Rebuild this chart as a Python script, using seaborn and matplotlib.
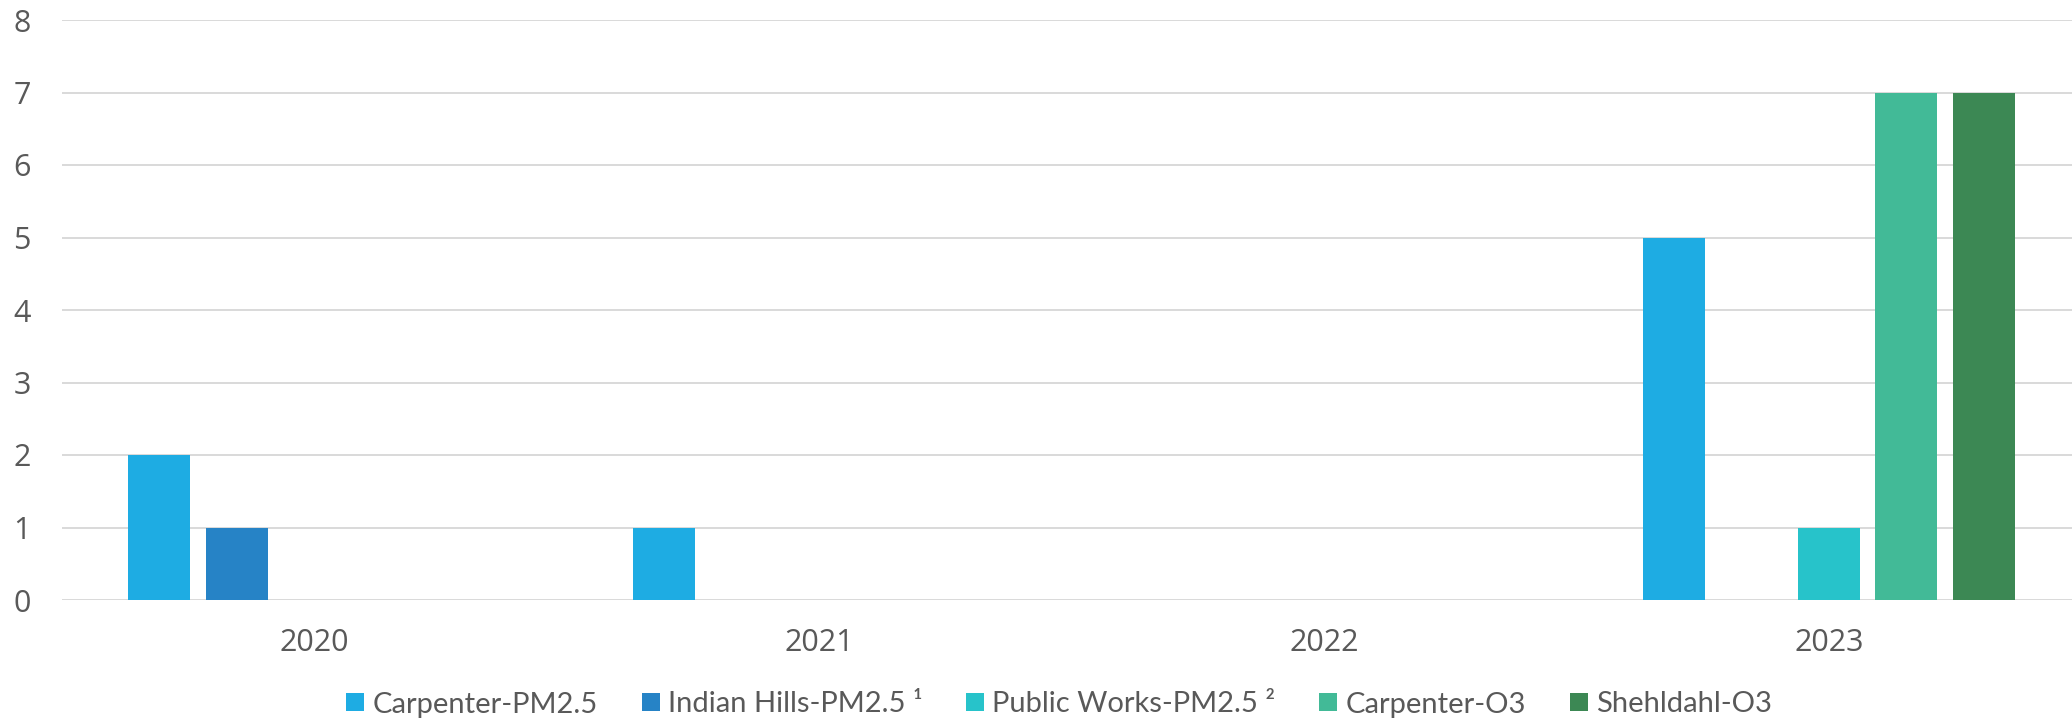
import matplotlib
matplotlib.use("Agg")
import matplotlib.pyplot as plt
import seaborn as sns
import pandas as pd

years = ["2020", "2021", "2022", "2023"]
series_names = ["Carpenter-PM2.5", "Indian Hills-PM2.5 \u00b9", "Public Works-PM2.5 \u00b2",
                "Carpenter-O3", "Shehldahl-O3"]
carpenter_pm25 = [2, 1, 0, 5]
indian_hills_pm25 = [1, 0, 0, 0]
public_works_pm25 = [0, 0, 0, 1]
carpenter_o3 = [0, 0, 0, 7]
shehldahl_o3 = [0, 0, 0, 7]
colors = ["#1EACE3", "#2683C6", "#27C3CA", "#42BA97", "#3C8854"]
y_ticks = [0, 1, 2, 3, 4, 5, 6, 7, 8]

values = [carpenter_pm25, indian_hills_pm25, public_works_pm25, carpenter_o3, shehldahl_o3]
rows = []
for name, vals in zip(series_names, values):
    for yr, v in zip(years, vals):
        rows.append({"year": yr, "value": v, "series": name})
df = pd.DataFrame(rows)

sns.set_theme(style="white")
plt.rcParams["font.family"] = ["Open Sans", "DejaVu Sans"]

fig = plt.figure(figsize=(20.72, 7.19), dpi=100)
ax = fig.add_axes([61.5 / 2072, 119 / 719, 2020 / 2072, 580 / 719])

sns.barplot(data=df, x="year", y="value", hue="series", order=years,
            hue_order=series_names, palette=colors, width=0.767, gap=0.2,
            linewidth=0, saturation=1, ax=ax)

ax.set_xlim(-0.5, 3.5)
ax.set_ylim(0, 8)
ax.set_yticks(y_ticks)
ax.set_yticklabels([str(t) for t in y_ticks])
ax.yaxis.grid(True, color="#D9D9D9", linewidth=1.4)
ax.set_axisbelow(True)
for s in ax.spines.values():
    s.set_visible(False)
ax.set_xlabel("")
ax.set_ylabel("")
ax.tick_params(axis="both", length=0, labelsize=22, labelcolor="#595959")
ax.tick_params(axis="y", pad=22)
ax.tick_params(axis="x", pad=20)

handles, labels = ax.get_legend_handles_labels()
ax.legend(handles, labels, loc="center", bbox_to_anchor=(1059 / 2072, 14.5 / 719),
          bbox_transform=fig.transFigure, ncol=5, frameon=False,
          prop={"family": ["Lato", "DejaVu Sans"], "size": 21},
          labelcolor="#595959", handlelength=0.62, handleheight=0.6,
          handletextpad=0.28, columnspacing=1.5, borderpad=0, borderaxespad=0)

fig.savefig("out.png", dpi=100)
